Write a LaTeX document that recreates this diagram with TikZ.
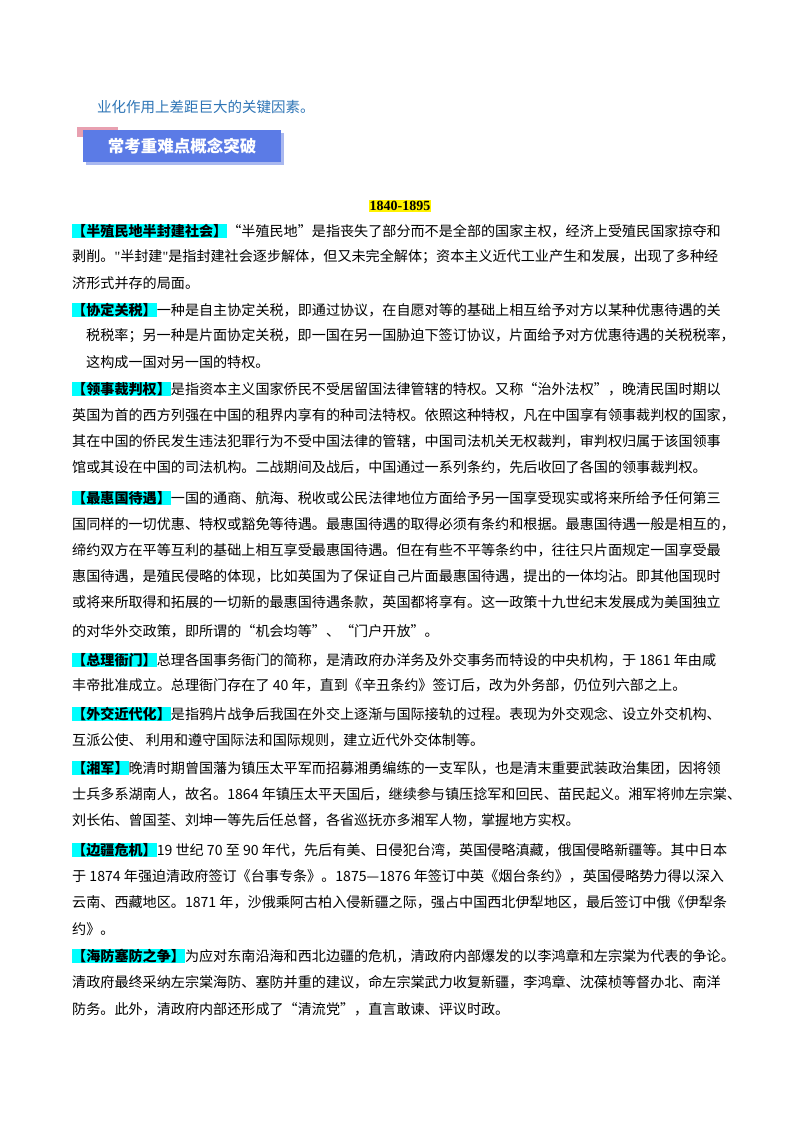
\documentclass[tikz,border=0pt]{standalone}
\usepackage{fontspec}
\setmainfont{Noto Sans CJK SC}[Ligatures=NoCommon]
\newfontfamily\serifnum{Liberation Serif}
\definecolor{keyc}{HTML}{00FFFF}
\definecolor{topblue}{HTML}{2E75B6}
\definecolor{boxblue}{HTML}{5B7BE6}
\definecolor{boxedge}{HTML}{A9B8F0}
\definecolor{pinkc}{HTML}{E8A0B0}
\newcommand{\dq}{{\serifnum\char"22}}
\newcommand{\kw}[1]{{\setlength{\fboxsep}{0pt}\colorbox{keyc}{\bfseries #1}}}
\tikzset{ln/.style={anchor=west,inner sep=0pt,font=\fontsize{14.1}{16}\selectfont}}
\begin{document}
\begin{tikzpicture}[x=1pt,y=-1pt]
\useasboundingbox (0,0) rectangle (800,1132);
\fill[white] (0,0) rectangle (800,1132);
\node[ln,text=topblue,font=\fontsize{14.5}{16}\selectfont] (top) at (97,107) {业化作用上差距巨大的关键因素。};
\fill[pinkc] (77,127) rectangle (118,137);
\fill[boxedge] (86,133) rectangle (284,165);
\fill[boxblue] (83,130) rectangle (281,162);
\node[text=white,font=\fontsize{16.5}{18}\selectfont\bfseries] (title) at (182,146) {常考重难点概念突破};
\node[fill=yellow,inner sep=1pt,font=\serifnum\fontsize{14}{16}\selectfont\bfseries] (yr) at (400,206) {1840-1895};
\node[ln] (a1) at (72,231) {\kw{【半殖民地半封建社会】}“半殖民地”是指丧失了部分而不是全部的国家主权，经济上受殖民国家掠夺和};
\node[ln] (a2) at (72,257) {剥削。\dq 半封建\dq 是指封建社会逐步解体，但又未完全解体；资本主义近代工业产生和发展，出现了多种经};
\node[ln] (a3) at (72,283) {济形式并存的局面。};
\node[ln] (b1) at (72,310) {\kw{【协定关税】}一种是自主协定关税，即通过协议，在自愿对等的基础上相互给予对方以某种优惠待遇的关};
\node[ln] (b2) at (86,336) {税税率；另一种是片面协定关税，即一国在另一国胁迫下签订协议，片面给予对方优惠待遇的关税税率，};
\node[ln] (b3) at (86,362) {这构成一国对另一国的特权。};
\node[ln] (c1) at (72,389) {\kw{【领事裁判权】}是指资本主义国家侨民不受居留国法律管辖的特权。又称“治外法权”，晚清民国时期以};
\node[ln] (c2) at (72,415) {英国为首的西方列强在中国的租界内享有的种司法特权。依照这种特权，凡在中国享有领事裁判权的国家，};
\node[ln] (c3) at (72,441) {其在中国的侨民发生违法犯罪行为不受中国法律的管辖，中国司法机关无权裁判，审判权归属于该国领事};
\node[ln] (c4) at (72,467) {馆或其设在中国的司法机构。二战期间及战后，中国通过一系列条约，先后收回了各国的领事裁判权。};
\node[ln] (d1) at (72,498) {\kw{【最惠国待遇】}一国的通商、航海、税收或公民法律地位方面给予另一国享受现实或将来所给予任何第三};
\node[ln] (d2) at (72,524) {国同样的一切优惠、特权或豁免等待遇。最惠国待遇的取得必须有条约和根据。最惠国待遇一般是相互的，};
\node[ln] (d3) at (72,550) {缔约双方在平等互利的基础上相互享受最惠国待遇。但在有些不平等条约中，往往只片面规定一国享受最};
\node[ln] (d4) at (72,576) {惠国待遇，是殖民侵略的体现，比如英国为了保证自己片面最惠国待遇，提出的一体均沾。即其他国现时};
\node[ln] (d5) at (72,602) {或将来所取得和拓展的一切新的最惠国待遇条款，英国都将享有。这一政策十九世纪末发展成为美国独立};
\node[ln] (d6) at (72,631) {的对华外交政策，即所谓的“机会均等”、“门户开放”。};
\node[ln] (e1) at (72,660) {\kw{【总理衙门】}总理各国事务衙门的简称，是清政府办洋务及外交事务而特设的中央机构，于 1861 年由咸};
\node[ln] (e2) at (72,685) {丰帝批准成立。总理衙门存在了 40 年，直到《辛丑条约》签订后，改为外务部，仍位列六部之上。};
\node[ln] (f1) at (72,714) {\kw{【外交近代化】}是指鸦片战争后我国在外交上逐渐与国际接轨的过程。表现为外交观念、设立外交机构、};
\node[ln] (f2) at (72,740) {互派公使、 利用和遵守国际法和国际规则，建立近代外交体制等。};
\node[ln] (g1) at (72,768) {\kw{【湘军】}晚清时期曾国藩为镇压太平军而招募湘勇编练的一支军队，也是清末重要武装政治集团，因将领};
\node[ln] (g2) at (72,794) {士兵多系湖南人，故名。1864 年镇压太平天国后，继续参与镇压捻军和回民、苗民起义。湘军将帅左宗棠、};
\node[ln] (g3) at (72,820) {刘长佑、曾国荃、刘坤一等先后任总督，各省巡抚亦多湘军人物，掌握地方实权。};
\node[ln] (h1) at (72,850) {\kw{【边疆危机】}19 世纪 70 至 90 年代，先后有美、日侵犯台湾，英国侵略滇藏，俄国侵略新疆等。其中日本};
\node[ln] (h2) at (72,876) {于 1874 年强迫清政府签订《台事专条》。1875—1876 年签订中英《烟台条约》，英国侵略势力得以深入};
\node[ln] (h3) at (72,902) {云南、西藏地区。1871 年，沙俄乘阿古柏入侵新疆之际，强占中国西北伊犁地区，最后签订中俄《伊犁条};
\node[ln] (h4) at (72,929) {约》。};
\node[ln] (i1) at (72,956) {\kw{【海防塞防之争】}为应对东南沿海和西北边疆的危机，清政府内部爆发的以李鸿章和左宗棠为代表的争论。};
\node[ln] (i2) at (72,982) {清政府最终采纳左宗棠海防、塞防并重的建议，命左宗棠武力收复新疆，李鸿章、沈葆桢等督办北、南洋};
\node[ln] (i3) at (72,1009) {防务。此外，清政府内部还形成了“清流党”，直言敢谏、评议时政。};
\end{tikzpicture}
\end{document}
